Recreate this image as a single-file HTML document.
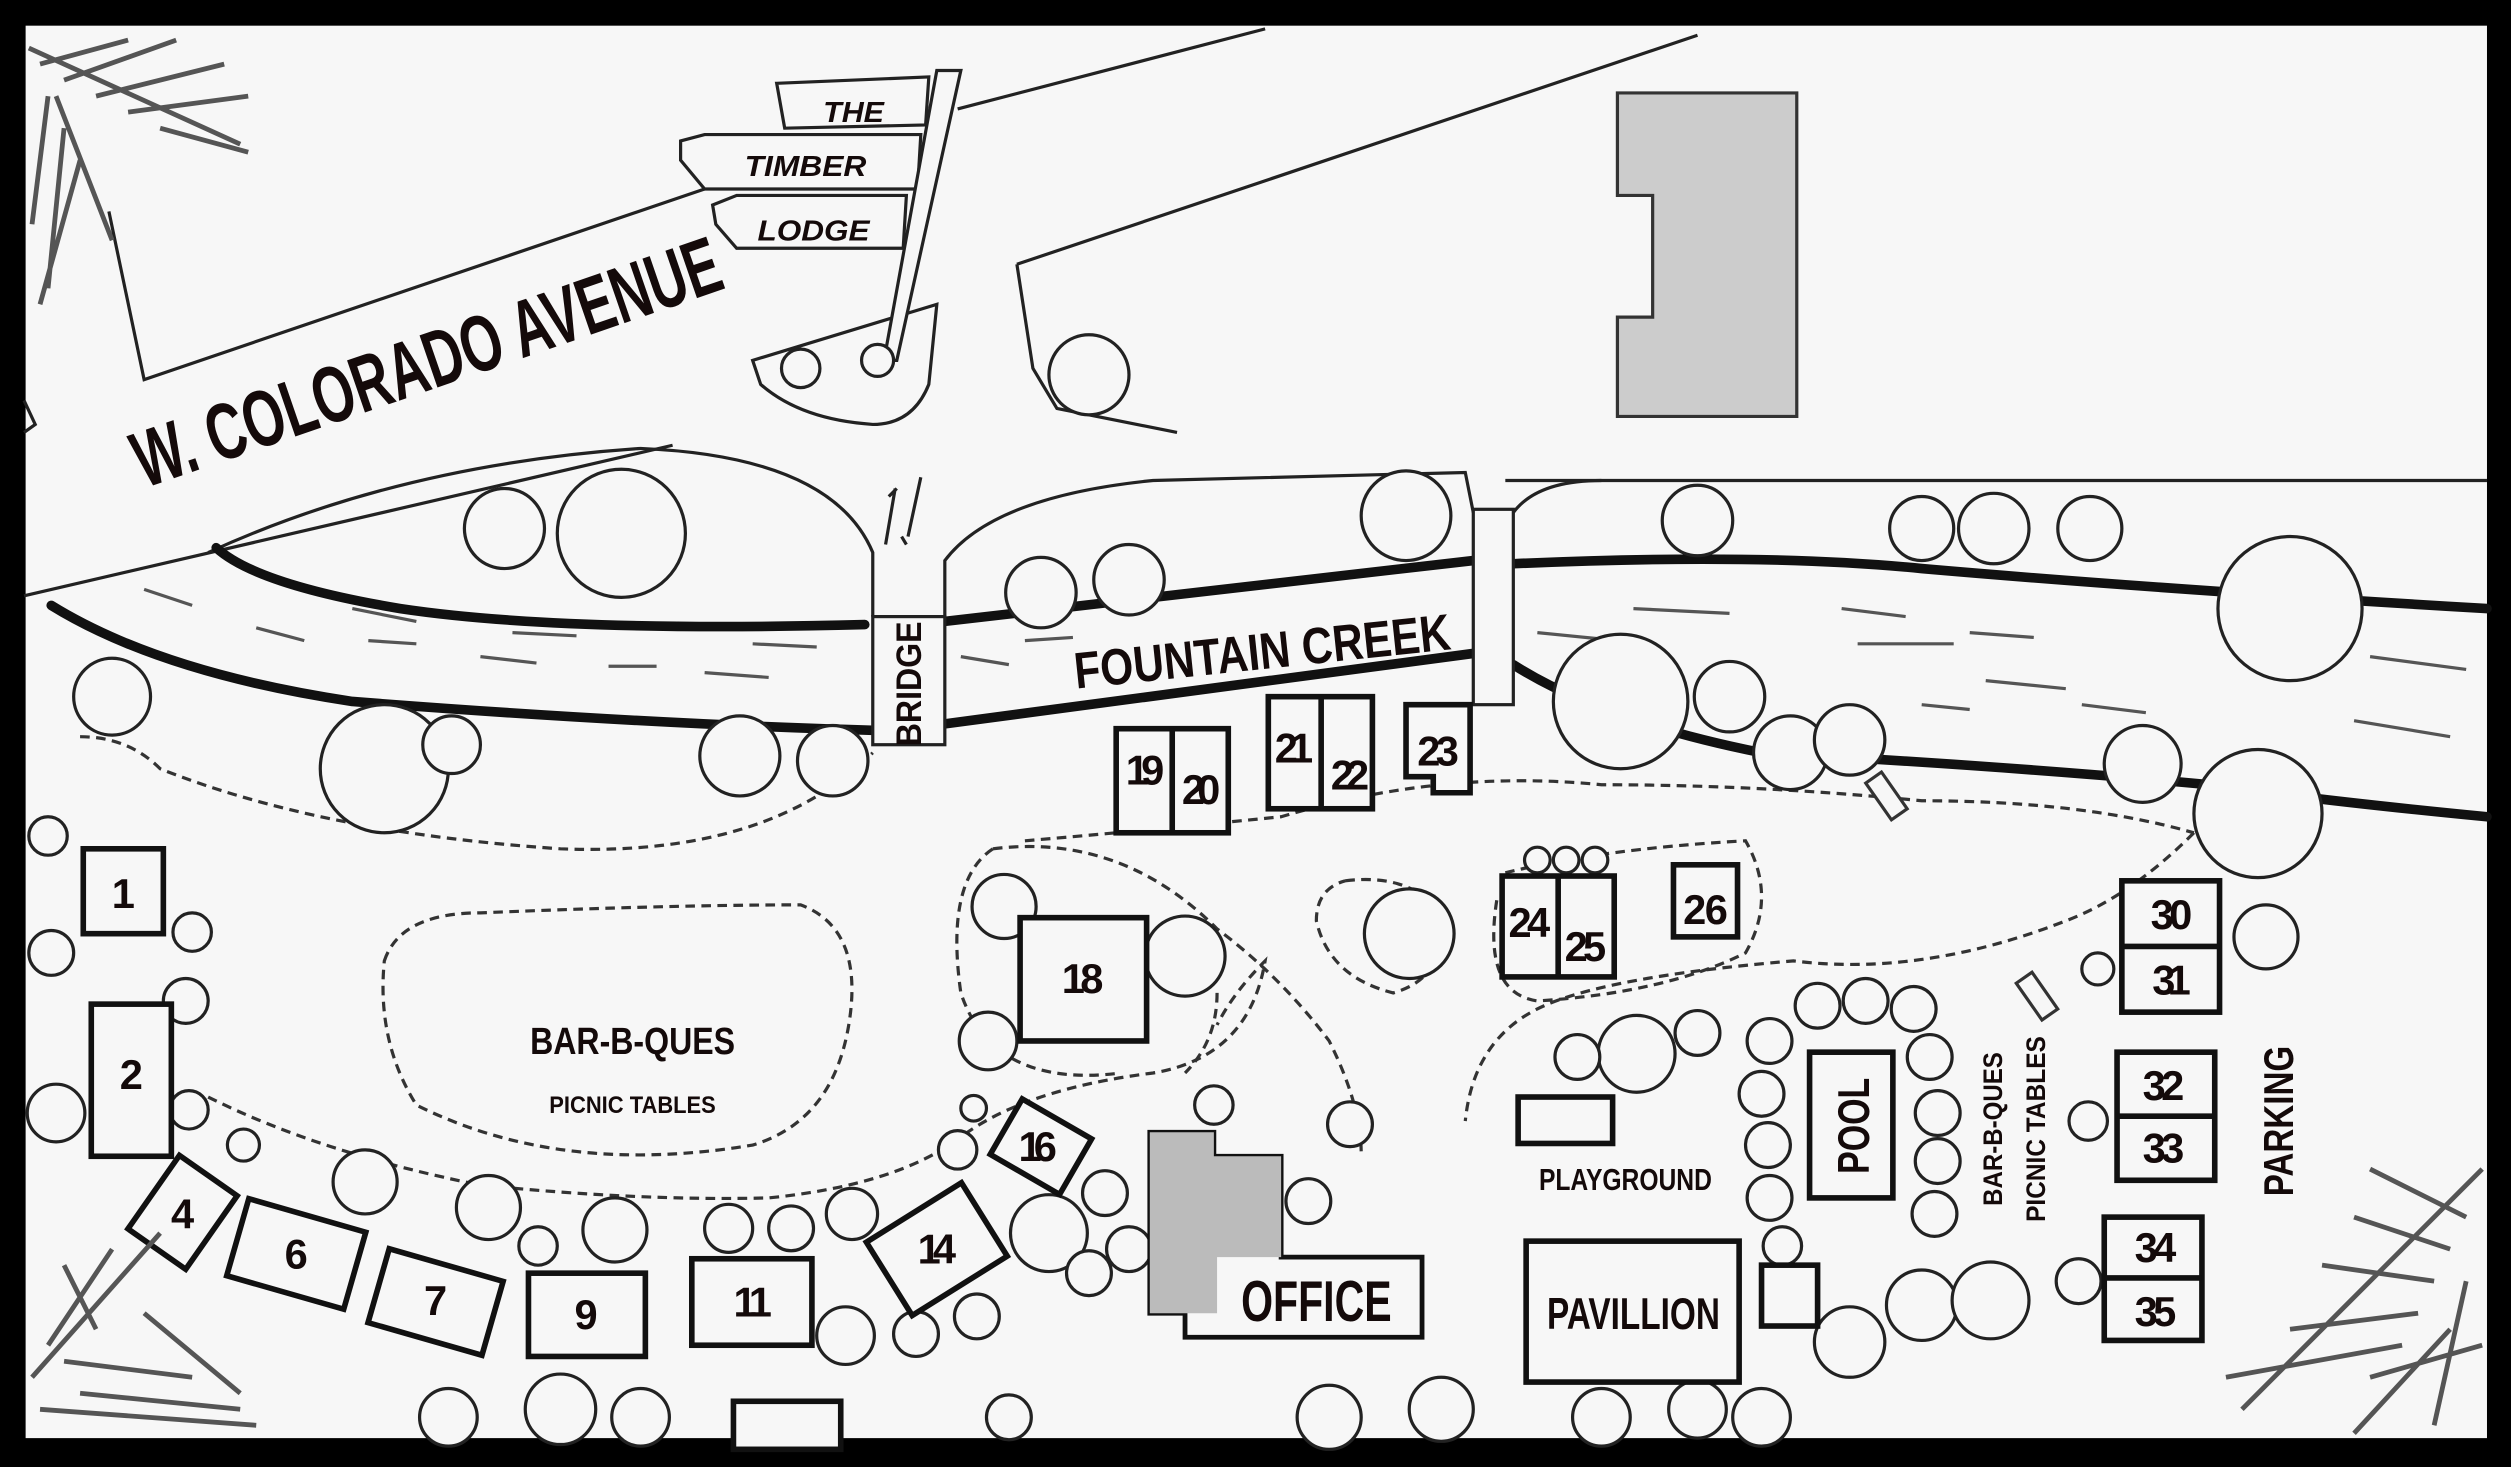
<!DOCTYPE html>
<html><head><meta charset="utf-8"><style>
html,body{margin:0;padding:0;background:#000;}
svg{display:block;}
text{font-family:"Liberation Sans Narrow","Liberation Sans",sans-serif;font-weight:bold;fill:#140a0a;}
</style></head><body>
<svg width="2511" height="1467" viewBox="0 0 1568 916" xmlns="http://www.w3.org/2000/svg">
<rect x="0" y="0" width="1568" height="916" fill="#000"/>
<rect x="16" y="16" width="1537" height="882" fill="#f7f7f7"/>
<g fill="none" stroke="#222" stroke-width="2">
<polyline points="68,132 90,237 440,118"/>
<polyline points="15,372 420,278"/>
<polyline points="598,68 790,18"/>
<polyline points="635,165 1060,22"/>
<polyline points="635,165 645,230 660,255 735,270"/>
<path d="M470,225 L585,190 L580,240 Q570,265 545,265 Q500,262 475,240 Z"/>
<path d="M15,250 L22,265 L15,270"/>
<line x1="940" y1="300" x2="1553" y2="300"/>
<path d="M130,345 Q250,290 400,280 Q520,285 545,345 L545,385"/>
<path d="M590,385 L590,350 Q620,310 720,300 L915,295 L920,320"/>
<path d="M945,320 Q960,300 1000,300"/>
</g>
<path d="M1010,58 L1122,58 L1122,260 L1010,260 L1010,198 L1032,198 L1032,122 L1010,122 Z" fill="#ccc" stroke="#333" stroke-width="2"/>
<g fill="#f7f7f7" stroke="#222" stroke-width="2">
<path d="M485,52 L580,48 L578,78 L490,80 Z"/>
<path d="M425,88 L440,84 L575,84 L573,118 L440,118 L425,100 Z"/>
<path d="M445,128 L460,122 L566,122 L564,155 L460,155 L447,140 Z"/>
<path d="M585,44 L600,44 L560,225 L552,225 Z"/>
</g>
<text x="514" y="76" font-size="18" font-style="italic" fill="#333" textLength="38" lengthAdjust="spacingAndGlyphs">THE</text>
<text x="465" y="110" font-size="18" font-style="italic" fill="#333" textLength="76" lengthAdjust="spacingAndGlyphs">TIMBER</text>
<text x="473" y="150" font-size="18" font-style="italic" fill="#333" textLength="70" lengthAdjust="spacingAndGlyphs">LODGE</text>
<text transform="translate(90,305) rotate(-19)" font-size="50" textLength="385" lengthAdjust="spacingAndGlyphs">W. COLORADO AVENUE</text>
<g fill="none" stroke="#111" stroke-width="6" stroke-linecap="round">
<path d="M135,342 Q160,365 250,380 Q350,395 540,390"/>
<path d="M590,388 L920,350"/>
<path d="M945,352 Q1100,345 1200,355 Q1350,368 1553,380"/>
<path d="M32,378 Q100,420 220,438 Q400,452 545,456"/>
<path d="M590,452 L920,408"/>
<path d="M945,415 Q1000,450 1100,470 Q1250,478 1380,490 Q1450,500 1553,510"/>
</g>
<g fill="none" stroke="#555" stroke-width="2">
<path d="M90,368 l30,10 M160,392 l30,8 M230,400 l30,2 M300,410 l35,4 M380,416 l30,0 M440,420 l40,3 M220,380 l40,8 M320,395 l40,2 M470,402 l40,2 M600,410 l30,5 M640,400 l30,-2 M960,395 l40,4 M1020,380 l60,3 M1150,380 l40,5 M1160,402 l60,0 M1230,395 l40,3 M1240,425 l50,5 M1300,440 l40,5 M1480,410 l60,8 M1470,450 l60,10 M1200,440 l30,3"/>
</g>
<rect x="545" y="385" width="45" height="80" fill="#f7f7f7" stroke="#222" stroke-width="2"/>
<text transform="translate(575,466) rotate(-90)" font-size="22" textLength="78" lengthAdjust="spacingAndGlyphs">BRIDGE</text>
<rect x="920" y="318" width="25" height="122" fill="#f7f7f7" stroke="#222" stroke-width="2"/>
<text transform="translate(672,430) rotate(-6)" font-size="32" textLength="236" lengthAdjust="spacingAndGlyphs">FOUNTAIN CREEK</text>
<path d="M553,340 l6,-35 M560,305 l-5,5 M567,335 l8,-37 M566,340 l-3,-5" stroke="#222" stroke-width="2"/>
<g fill="none" stroke="#333" stroke-width="2" stroke-dasharray="6,4">
<path d="M50,460 Q80,460 100,480 Q200,520 350,530 Q480,535 545,470"/>
<path d="M240,600 Q250,570 300,570 Q420,565 500,565 Q540,580 530,640 Q520,700 470,715 Q350,735 260,690 Q235,650 240,600 Z"/>
<path d="M130,685 Q200,720 300,740 Q400,750 480,748 Q560,740 600,710 Q640,680 720,670 Q780,660 790,600 Q770,620 760,640"/>
<path d="M620,530 Q590,550 600,620 Q620,680 700,670"/>
<path d="M620,530 Q700,520 760,580 Q800,610 830,650 Q850,690 850,720"/>
<path d="M640,525 Q700,520 800,510 Q900,480 1000,490 Q1100,490 1200,500 Q1300,500 1370,520"/>
<path d="M1370,520 Q1330,560 1290,575 Q1200,610 1120,600 Q1000,610 960,630 Q920,650 915,700"/>
<path d="M940,545 Q1000,530 1090,525 Q1110,560 1090,595 Q1040,620 960,625 Q925,620 935,560"/>
<path d="M840,550 Q880,545 900,570 Q905,610 870,620 Q830,610 822,575 Q822,555 840,550"/>
<path d="M760,620 Q760,650 740,670"/>
</g>
<g fill="#f7f7f7" stroke="#222" stroke-width="2">
<circle cx="315" cy="330" r="25"/><circle cx="388" cy="333" r="40"/>
<circle cx="70" cy="435" r="24"/><circle cx="240" cy="480" r="40"/><circle cx="282" cy="465" r="18"/>
<circle cx="462" cy="472" r="25"/><circle cx="520" cy="475" r="22"/>
<circle cx="650" cy="370" r="22"/><circle cx="705" cy="362" r="22"/>
<circle cx="878" cy="322" r="28"/><circle cx="1060" cy="325" r="22"/>
<circle cx="1200" cy="330" r="20"/><circle cx="1245" cy="330" r="22"/><circle cx="1305" cy="330" r="20"/>
<circle cx="1430" cy="380" r="45"/>
<circle cx="1012" cy="438" r="42"/><circle cx="1080" cy="435" r="22"/><circle cx="1118" cy="470" r="23"/><circle cx="1155" cy="462" r="22"/>
<circle cx="1338" cy="477" r="24"/><circle cx="1410" cy="508" r="40"/>
<circle cx="680" cy="234" r="25"/>
<circle cx="30" cy="522" r="12"/><circle cx="32" cy="595" r="14"/><circle cx="120" cy="582" r="12"/><circle cx="116" cy="625" r="14"/><circle cx="35" cy="695" r="18"/><circle cx="118" cy="693" r="12"/><circle cx="152" cy="715" r="10"/>
<circle cx="228" cy="738" r="20"/><circle cx="305" cy="754" r="20"/><circle cx="384" cy="768" r="20"/><circle cx="336" cy="778" r="12"/><circle cx="455" cy="767" r="15"/><circle cx="494" cy="767" r="14"/><circle cx="532" cy="758" r="16"/>
<circle cx="627" cy="566" r="20"/><circle cx="740" cy="597" r="25"/><circle cx="617" cy="650" r="18"/><circle cx="608" cy="692" r="8"/><circle cx="598" cy="718" r="12"/><circle cx="758" cy="690" r="12"/><circle cx="843" cy="702" r="14"/><circle cx="817" cy="750" r="14"/>
<circle cx="655" cy="770" r="24"/><circle cx="690" cy="745" r="14"/><circle cx="705" cy="780" r="14"/><circle cx="680" cy="795" r="14"/>
<circle cx="528" cy="834" r="18"/><circle cx="572" cy="833" r="14"/><circle cx="610" cy="822" r="14"/>
<circle cx="880" cy="583" r="28"/><circle cx="1022" cy="658" r="24"/><circle cx="985" cy="660" r="14"/><circle cx="1060" cy="645" r="14"/>
<circle cx="1105" cy="650" r="14"/><circle cx="1100" cy="683" r="14"/><circle cx="1104" cy="715" r="14"/><circle cx="1105" cy="748" r="14"/><circle cx="1113" cy="778" r="12"/>
<circle cx="1135" cy="628" r="14"/><circle cx="1165" cy="625" r="14"/><circle cx="1195" cy="630" r="14"/><circle cx="1205" cy="660" r="14"/><circle cx="1210" cy="695" r="14"/><circle cx="1210" cy="725" r="14"/><circle cx="1208" cy="758" r="14"/>
<circle cx="1155" cy="838" r="22"/><circle cx="1200" cy="815" r="22"/><circle cx="1243" cy="812" r="24"/><circle cx="1298" cy="800" r="14"/>
<circle cx="1310" cy="605" r="10"/><circle cx="1415" cy="585" r="20"/><circle cx="1304" cy="700" r="12"/>
<circle cx="960" cy="537" r="8"/><circle cx="978" cy="537" r="8"/><circle cx="996" cy="537" r="8"/>
<circle cx="280" cy="885" r="18"/><circle cx="350" cy="880" r="22"/><circle cx="400" cy="885" r="18"/><circle cx="630" cy="885" r="14"/>
<circle cx="830" cy="885" r="20"/><circle cx="900" cy="880" r="20"/><circle cx="1000" cy="885" r="18"/><circle cx="1060" cy="880" r="18"/><circle cx="1100" cy="885" r="18"/>
<circle cx="500" cy="230" r="12"/><circle cx="548" cy="225" r="10"/>
</g>
<g fill="#f7f7f7" stroke="#111" stroke-width="3.5">
<rect x="52" y="530" width="50" height="53"/>
<rect x="57" y="627" width="50" height="95"/>
<rect x="-22" y="-28" width="44" height="56" transform="translate(114,757) rotate(35)"/>
<rect x="-38" y="-25" width="76" height="50" transform="translate(185,783) rotate(16)"/>
<rect x="-37" y="-24" width="74" height="48" transform="translate(272,813) rotate(16)"/>
<rect x="330" y="795" width="73" height="52"/>
<rect x="432" y="786" width="75" height="54"/>
<rect x="-35" y="-27" width="70" height="54" transform="translate(585,780) rotate(-32)"/>
<rect x="-25" y="-20" width="50" height="40" transform="translate(650,716) rotate(30)"/>
<rect x="637" y="573" width="79" height="77"/>
<rect x="697" y="455" width="70" height="65"/><line x1="732" y1="455" x2="732" y2="520"/>
<rect x="792" y="435" width="65" height="70"/><line x1="825" y1="435" x2="825" y2="505"/>
<path d="M878,440 L918,440 L918,495 L895,495 L895,485 L878,485 Z"/>
<rect x="938" y="547" width="70" height="63"/><line x1="973" y1="547" x2="973" y2="610"/>
<rect x="1045" y="540" width="40" height="45"/>
<rect x="1325" y="550" width="61" height="82"/><line x1="1325" y1="591" x2="1386" y2="591"/>
<rect x="1322" y="657" width="61" height="80"/><line x1="1322" y1="697" x2="1383" y2="697"/>
<rect x="1314" y="760" width="61" height="77"/><line x1="1314" y1="798" x2="1375" y2="798"/>
<rect x="1130" y="657" width="52" height="91"/>
<rect x="948" y="685" width="59" height="29"/>
<rect x="953" y="775" width="133" height="88"/>
<rect x="1100" y="790" width="35" height="38"/>
<rect x="458" y="875" width="67" height="30"/>
</g>
<path d="M718,707 L758,707 L758,722 L800,722 L800,785 L888,785 L888,835 L740,835 L740,820 L718,820 Z" fill="#f7f7f7" stroke="#111" stroke-width="3"/>
<path d="M718,707 L758,707 L758,722 L800,722 L800,785 L760,785 L760,820 L718,820 Z" fill="#bbb"/>
<g stroke="#333" stroke-width="2" fill="#f7f7f7">
<rect x="-6" y="-14" width="12" height="28" transform="translate(1178,497) rotate(-35)"/>
<rect x="-6" y="-14" width="12" height="28" transform="translate(1272,622) rotate(-35)"/>
</g>
<g font-size="26" text-anchor="middle" lengthAdjust="spacingAndGlyphs">
<text x="77" y="567">1</text><text x="82" y="680">2</text><text x="114" y="767">4</text><text x="185" y="792">6</text><text x="272" y="821">7</text><text x="366" y="830">9</text><text x="470" y="822" textLength="24">11</text><text x="585" y="789" textLength="24">14</text><text x="648" y="725" textLength="24">16</text><text x="676" y="620" textLength="26">18</text>
<text x="715" y="490" textLength="24">19</text><text x="750" y="502" textLength="24">20</text><text x="808" y="476" textLength="24">21</text><text x="843" y="493" textLength="24">22</text><text x="898" y="478" textLength="26">23</text>
<text x="955" y="585" textLength="26">24</text><text x="990" y="600" textLength="26">25</text><text x="1065" y="577" textLength="28">26</text>
<text x="1356" y="580" textLength="26">30</text><text x="1356" y="621" textLength="24">31</text><text x="1351" y="687" textLength="26">32</text><text x="1351" y="726" textLength="26">33</text><text x="1346" y="788" textLength="26">34</text><text x="1346" y="828" textLength="26">35</text>
</g>
<text x="395" y="658" font-size="24" text-anchor="middle" textLength="128" lengthAdjust="spacingAndGlyphs">BAR-B-QUES</text>
<text x="395" y="695" font-size="15" text-anchor="middle" textLength="104" lengthAdjust="spacingAndGlyphs">PICNIC TABLES</text>
<text x="822" y="825" font-size="36" text-anchor="middle" textLength="94" lengthAdjust="spacingAndGlyphs">OFFICE</text>
<text x="1020" y="830" font-size="28" text-anchor="middle" textLength="108" lengthAdjust="spacingAndGlyphs">PAVILLION</text>
<text x="1015" y="743" font-size="19" text-anchor="middle" textLength="108" lengthAdjust="spacingAndGlyphs">PLAYGROUND</text>
<text transform="translate(1167,703) rotate(-90)" font-size="28" text-anchor="middle" textLength="60" lengthAdjust="spacingAndGlyphs">POOL</text>
<text transform="translate(1250,705) rotate(-90)" font-size="17" text-anchor="middle" textLength="96" lengthAdjust="spacingAndGlyphs">BAR-B-QUES</text>
<text transform="translate(1277,705) rotate(-90)" font-size="17" text-anchor="middle" textLength="116" lengthAdjust="spacingAndGlyphs">PICNIC TABLES</text>
<text transform="translate(1432,700) rotate(-90)" font-size="26" text-anchor="middle" textLength="94" lengthAdjust="spacingAndGlyphs">PARKING</text>
<g stroke="#555" stroke-width="3" fill="none">
<path d="M18,30 L150,90 M25,40 L80,25 M40,50 L110,25 M60,60 L140,40 M80,70 L155,60 M100,80 L155,95 M30,60 L20,140 M40,80 L30,180 M50,100 L25,190 M35,60 L70,150"/>
<path d="M20,860 L100,770 M25,880 L160,890 M30,840 L70,780 M40,850 L120,860 M50,870 L150,880 M60,830 L40,790 M90,820 L150,870"/>
<path d="M1550,730 L1400,880 M1540,760 L1480,730 M1530,780 L1470,760 M1520,800 L1450,790 M1510,820 L1430,830 M1500,840 L1390,860 M1540,800 L1520,890 M1530,830 L1470,895 M1480,860 L1550,840"/>
</g>
</svg>
</body></html>
